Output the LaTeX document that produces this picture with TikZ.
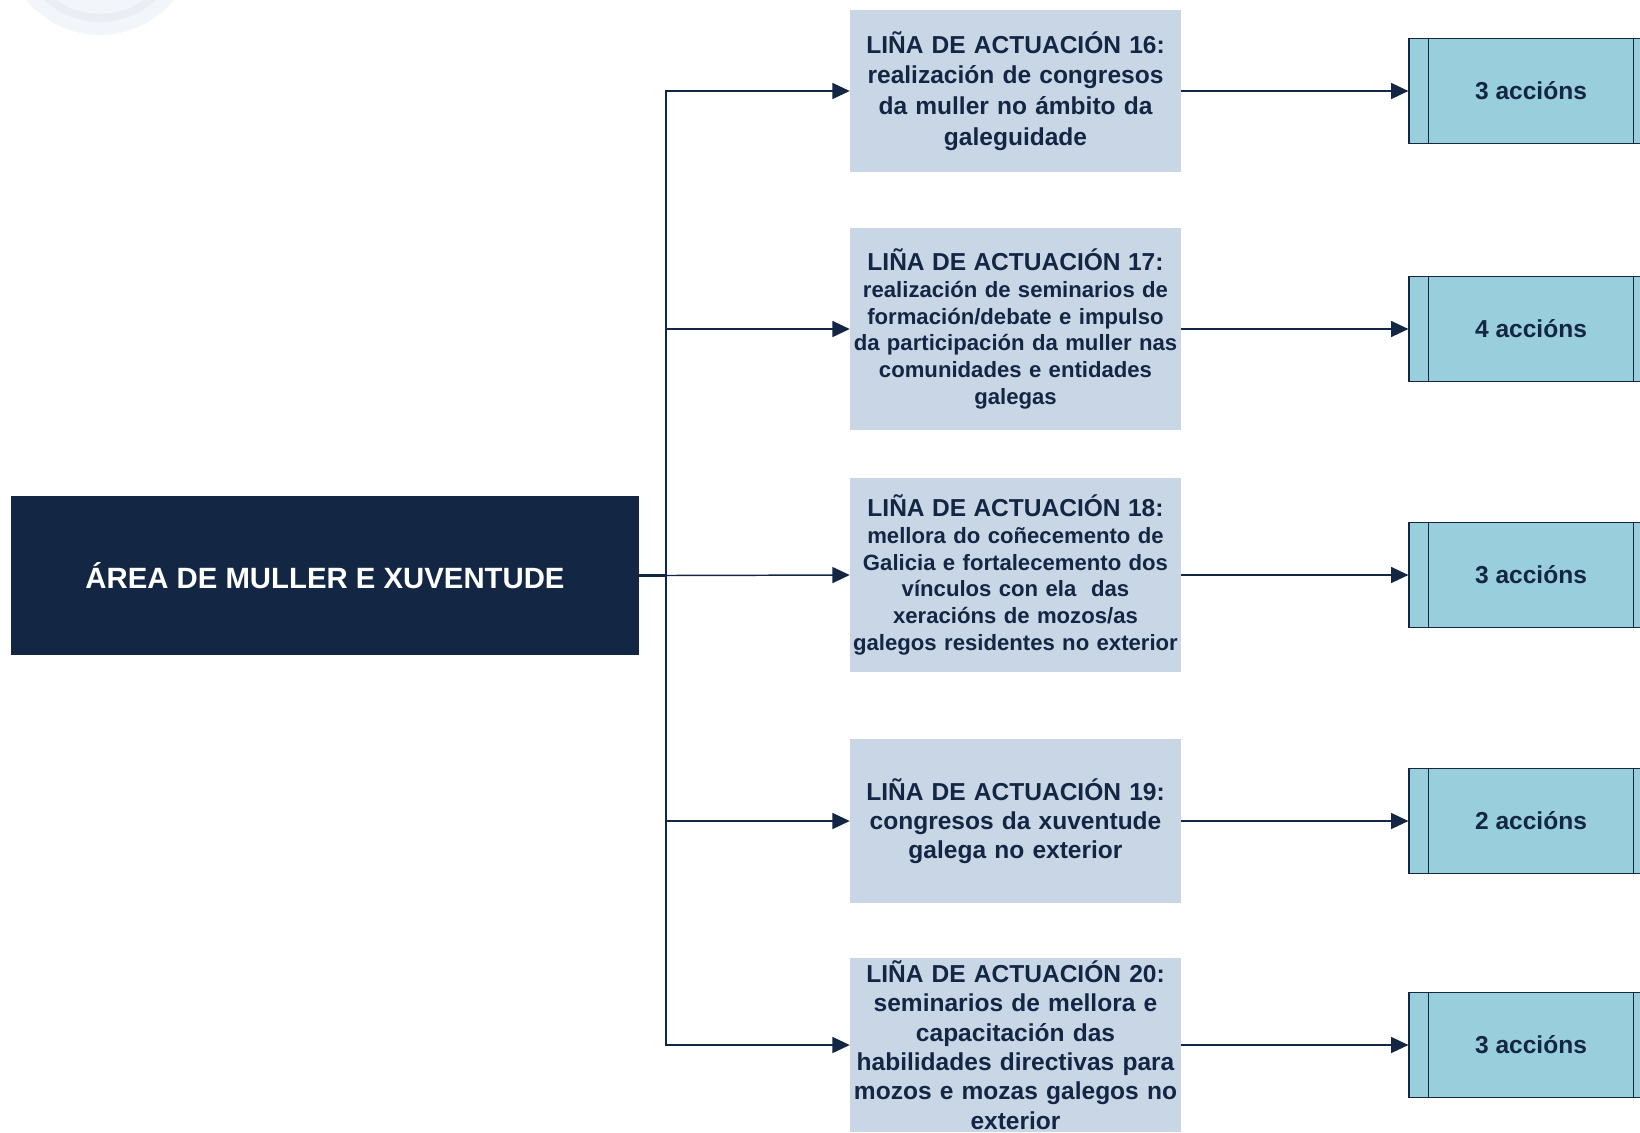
\documentclass[tikz,border=0pt]{standalone}
\usepackage{fontspec}
\setmainfont{Liberation Sans}
\usetikzlibrary{arrows.meta}
\definecolor{navy}{RGB}{19,38,67}
\definecolor{midfill}{RGB}{201,214,230}
\definecolor{rightfill}{RGB}{153,206,220}
\definecolor{wmA}{RGB}{242,245,249}
\definecolor{wmB}{RGB}{234,238,244}
\newcommand{\ttlfont}{\fontsize{18.4}{20}\selectfont}
\tikzset{
  mainbox/.style={rectangle, fill=navy, text=white, inner sep=0pt,
    minimum width=470.6pt, minimum height=119pt,
    font=\bfseries\fontsize{22}{26}\selectfont},
  linebox/.style={rectangle, fill=midfill, text=navy, inner sep=0pt,
    minimum width=248.25pt, text width=246pt, align=center},
  bigtxt/.style={font=\bfseries\fontsize{18.4}{23}\selectfont},
  midtxt/.style={font=\bfseries\fontsize{18.4}{22}\selectfont},
  smalltxt/.style={font=\bfseries\fontsize{16.6}{20}\selectfont},
  actbox/.style={rectangle, fill=rightfill, draw=navy, line width=0.9pt, text=navy,
    inner sep=0pt, minimum width=183pt, minimum height=78.5pt,
    font=\bfseries\fontsize{18.4}{22}\selectfont},
  arr/.style={draw=navy, line width=1.1pt, -{Triangle[length=13pt,width=12pt]}},
  inner/.style={draw=navy, line width=0.9pt}
}
\begin{document}
\begin{tikzpicture}[x=0.75pt,y=-0.75pt]
\useasboundingbox (0,0) rectangle (1640,1132);
\clip (0,0) rectangle (1640,1132);
% faint watermark
\fill[wmA] (100,-60) circle (95);
\draw[wmB, line width=6pt] (100,-60) circle (78);
% main box
\node[mainbox] (main) at (325,575.5) {ÁREA DE MULLER E XUVENTUDE};
% lines of action
\node[linebox, bigtxt, minimum height=121.5pt] (l16) at (1015.5,91)
  {LIÑA DE ACTUACIÓN 16:\\realización de congresos\\da muller no ámbito da\\galeguidade};
\node[linebox, smalltxt, minimum height=151.5pt] (l17) at (1015.5,329)
  {{\ttlfont LIÑA DE ACTUACIÓN 17:}\\realización de seminarios de\\formación/debate e impulso\\da participación da muller nas\\comunidades e entidades\\galegas};
\node[linebox, smalltxt, minimum height=146pt] (l18) at (1015.5,575)
  {{\ttlfont LIÑA DE ACTUACIÓN 18:}\\mellora do coñecemento de\\Galicia e fortalecemento dos\\vínculos con ela\ \ das\\xeracións de mozos/as\\galegos residentes no exterior};
\node[linebox, midtxt, minimum height=122.7pt] (l19) at (1015.5,821)
  {LIÑA DE ACTUACIÓN 19:\\congresos da xuventude\\galega no exterior};
\node[linebox, midtxt, minimum height=130.5pt] (l20) at (1015.5,1045)
  {LIÑA DE ACTUACIÓN 20:\\seminarios de mellora e\\capacitación das\\habilidades directivas para\\mozos e mozas galegos no\\exterior};
% action boxes
\foreach \n/\y/\t in {a16/91/3, a17/329/4, a18/575/3, a19/821/2, a20/1045/3}{
  \node[actbox] (\n) at (1531,\y) {\t\ accións};
  \draw[inner] ([xshift=15pt]\n.north west) -- ([xshift=15pt]\n.south west);
  \draw[inner] ([xshift=-15pt]\n.north east) -- ([xshift=-15pt]\n.south east);
}
% connectors
\draw[navy, line width=2pt] (main.east) -- ++(27,0) coordinate (trunk);
\foreach \l in {l16,l17,l19,l20}{
  \draw[arr] (trunk) |- (\l.west);
}
\draw[arr] (trunk) -- (l18.west);
\foreach \l/\a in {l16/a16,l17/a17,l18/a18,l19/a19,l20/a20}{
  \draw[arr] (\l.east) -- (\a.west);
}
\end{tikzpicture}
\end{document}
